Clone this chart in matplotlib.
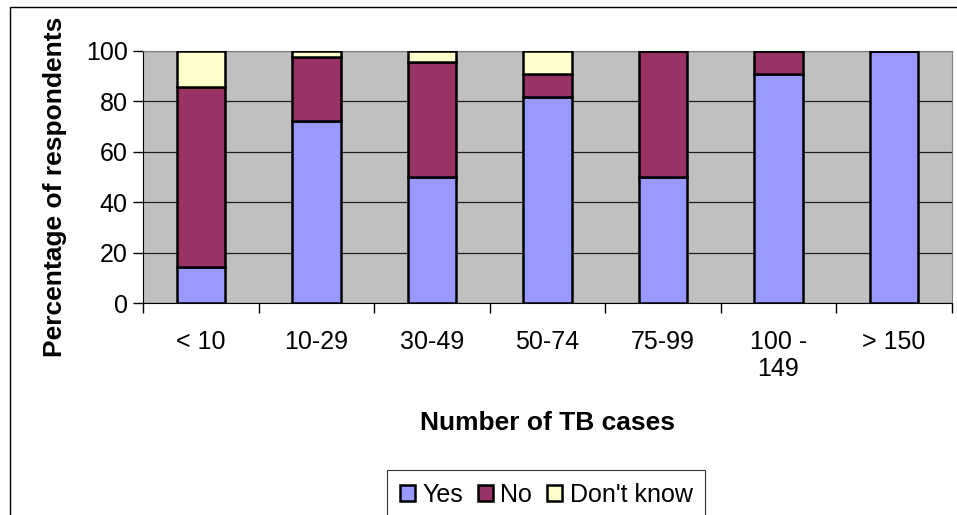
import numpy as np
import matplotlib.pyplot as plt
from matplotlib.patches import Rectangle

# data (percent of respondents)
categories = ["< 10", "10-29", "30-49", "50-74", "75-99", "100 -\n149", "> 150"]
yes = [14.3, 72.0, 50.0, 81.8, 50.0, 90.9, 100.0]
no = [71.4, 25.5, 45.5, 9.1, 50.0, 9.1, 0.0]
dont_know = [14.3, 2.5, 4.5, 9.1, 0.0, 0.0, 0.0]

plt.rcParams['font.family'] = ['Liberation Sans', 'DejaVu Sans']

fig = plt.figure(figsize=(9.57, 5.15), dpi=100)
ax = fig.add_axes([143 / 957, 1 - 303.3 / 515, (951.7 - 143) / 957, (303.3 - 50.7) / 515])

x = np.arange(len(categories))
w = 0.42
ax.set_facecolor('#C0C0C0')
ax.bar(x, yes, w, color='#9999FF', edgecolor='black', linewidth=1.8, label='Yes', zorder=3)
ax.bar(x, no, w, bottom=yes, color='#993366', edgecolor='black', linewidth=1.8, label='No', zorder=3)
bottom2 = np.array(yes) + np.array(no)
ax.bar(x, dont_know, w, bottom=bottom2, color='#FFFFCC', edgecolor='black', linewidth=1.8,
       label="Don't know", zorder=3)

ax.set_xlim(-0.5, len(categories) - 0.5)
ax.set_ylim(0, 100)
ax.set_yticks([0, 20, 40, 60, 80, 100])
ax.yaxis.grid(True, color='#202020', linewidth=0.9, zorder=1)
ax.set_axisbelow(True)

# labels at bar centres, tick marks at category boundaries
ax.set_xticks(x)
ax.set_xticklabels(categories, fontsize=18, linespacing=1.2)
ax.tick_params(axis='x', which='major', length=0, pad=19)
ax.set_xticks(np.arange(-0.5, len(categories)), minor=True)
ax.tick_params(axis='x', which='minor', length=7, width=1, direction='out')
ax.tick_params(axis='y', labelsize=18, length=7, width=1, direction='out', pad=4)

for side in ['top', 'right']:
    ax.spines[side].set_color('#808080')
for side in ['left', 'bottom']:
    ax.spines[side].set_color('black')

ax.set_ylabel("Percentage of respondents", fontsize=19, fontweight='bold')
ax.yaxis.set_label_coords(-0.094, 0.46)
ax.set_xlabel("Number of TB cases", fontsize=19, fontweight='bold', labelpad=21)

leg = fig.legend(loc='upper center', bbox_to_anchor=(546 / 957, 1 - 470 / 515), ncol=3,
                 fontsize=18, frameon=True, fancybox=False, edgecolor='black',
                 handlelength=0.6, handleheight=0.6, handletextpad=0.3,
                 columnspacing=0.6, borderpad=0.5, borderaxespad=0)
leg.get_frame().set_linewidth(0.8)

# outer chart border (runs off the right and bottom edges)
fig.patches.append(Rectangle((10 / 957, -0.1), 1.2, 1 - 7 / 515 + 0.1,
                             transform=fig.transFigure, fill=False,
                             edgecolor='black', linewidth=1.0))

fig.savefig("out.png", dpi=100)
